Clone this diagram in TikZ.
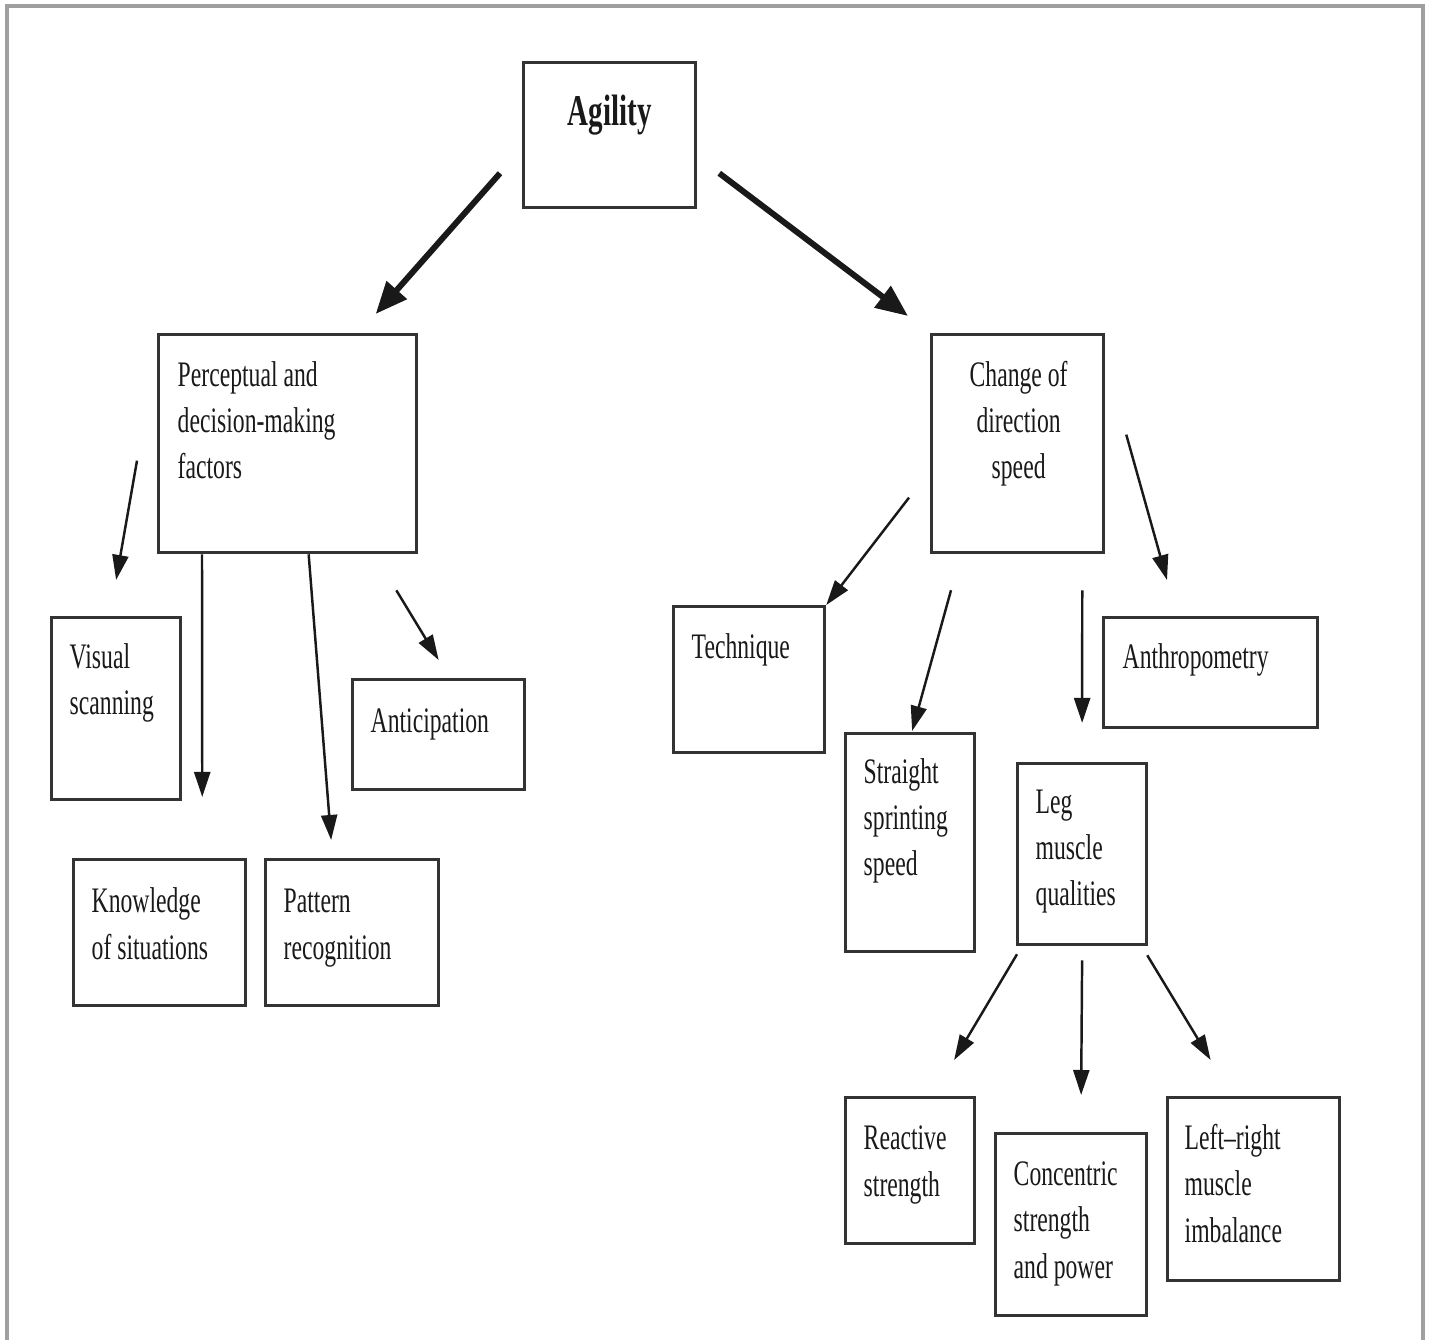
\documentclass[tikz,border=0pt]{standalone}
\usepackage{fontspec}
\setmainfont{Liberation Serif}[FakeStretch=0.66]
\usetikzlibrary{arrows.meta}

\begin{document}
\begin{tikzpicture}[x=0.01cm, y=-0.01cm,
    box/.style = {draw=black!80, line width=0.9pt, inner sep=0pt, anchor=north west},
    lbl/.style = {anchor=base west, align=left, inner sep=0pt, text=black!90,
                  font=\fontsize{10.2}{13.1}\selectfont},
    link/.style = {black!90, line width=0.7pt, -{Triangle[length=0.25cm, width=0.16cm]}},
    heavy link/.style = {black!90, line width=1.7pt, -{Triangle[length=0.32cm, width=0.26cm]}}]
    \useasboundingbox (0,0) rectangle (1433,1340);

    % Frame
    \draw[gray!75, line width=0.9pt] (7,1360) -- (7,6) -- (1423,6) -- (1423,1360);

    % Top box
    \node[box, minimum width=1.72cm, minimum height=1.45cm] (agi) at (522,61) {};
    \node[inner sep=0pt, anchor=base, text=black!90, font=\bfseries\fontsize{12.5}{15}\selectfont]
        (agiT) at ([shift={(0,-10)}]agi.center) {Agility};

    % Second level (text nodes sit on the baseline of their last line)
    \node[box, minimum width=2.58cm, minimum height=2.18cm] (per) at (157,333) {};
    \node[lbl] (perT) at ([shift={(20,146)}]per.north west) {Perceptual and\\decision-making\\factors};
    \node[box, minimum width=1.72cm, minimum height=2.18cm] (cod) at (930,333) {};
    \node[lbl, anchor=base, align=center] (codT) at ([shift={(1,146)}]cod.north) {Change of\\direction\\speed};

    % Perceptual side
    \node[box, minimum width=1.29cm, minimum height=1.82cm] (vis) at (50,616) {};
    \node[lbl] (visT) at ([shift={(19,99)}]vis.north west) {Visual\\scanning};
    \node[box, minimum width=1.72cm, minimum height=1.10cm] (ant) at (351,678) {};
    \node[lbl] (antT) at ([shift={(19,55)}]ant.north west) {Anticipation};
    \node[box, minimum width=1.72cm, minimum height=1.46cm] (kno) at (72,858) {};
    \node[lbl] (knoT) at ([shift={(19,101)}]kno.north west) {Knowledge\\of situations};
    \node[box, minimum width=1.73cm, minimum height=1.46cm] (pat) at (264,858) {};
    \node[lbl] (patT) at ([shift={(19,101)}]pat.north west) {Pattern\\recognition};

    % Change of direction side
    \node[box, minimum width=1.51cm, minimum height=1.46cm] (tec) at (672,605) {};
    \node[lbl] (tecT) at ([shift={(19,54)}]tec.north west) {Technique};
    \node[box, minimum width=1.29cm, minimum height=2.18cm] (ssp) at (844,732) {};
    \node[lbl] (sspT) at ([shift={(19,144)}]ssp.north west) {Straight\\sprinting\\speed};
    \node[box, minimum width=2.14cm, minimum height=1.10cm] (anth) at (1102,616) {};
    \node[lbl] (anthT) at ([shift={(20,53)}]anth.north west) {Anthropometry};
    \node[box, minimum width=1.29cm, minimum height=1.81cm] (leg) at (1016,762) {};
    \node[lbl] (legT) at ([shift={(19,144)}]leg.north west) {Leg\\muscle\\qualities};

    % Leg muscle qualities
    \node[box, minimum width=1.29cm, minimum height=1.46cm] (rea) at (844,1096) {};
    \node[lbl] (reaT) at ([shift={(19,100)}]rea.north west) {Reactive\\strength};
    \node[box, minimum width=1.51cm, minimum height=1.82cm] (con) at (994,1132) {};
    \node[lbl] (conT) at ([shift={(19,146)}]con.north west) {Concentric\\strength\\and power};
    \node[box, minimum width=1.72cm, minimum height=1.83cm] (lr) at (1166,1096) {};
    \node[lbl] (lrT) at ([shift={(18,146)}]lr.north west) {Left--right\\muscle\\imbalance};

    % Arrows from the top
    \draw[heavy link] ([shift={(-22,-36)}]agi.south west) -- ([shift={(88,-19)}]per.north);
    \draw[heavy link] ([shift={(22,-36)}]agi.south east) -- ([shift={(-22,-17)}]cod.north west);

    % Arrows from perceptual factors
    \draw[link] ([shift={(-20,17)}]per.west) -- ([shift={(0,-36)}]vis.north);
    \draw[link] ([shift={(45,0)}]per.south west) -- ([shift={(-45,-61)}]kno.north east);
    \draw[link] ([shift={(21,0)}]per.south) -- ([shift={(-21,-18)}]pat.north);
    \draw[link] ([shift={(-22,36)}]per.south east) -- ([shift={(0,-18)}]ant.north);

    % Arrows from change of direction speed
    \draw[link] ([shift={(-21,54)}]cod.west) -- (tec.north east);
    \draw[link] ([shift={(21,36)}]cod.south west) -- ([shift={(2,-1)}]ssp.north);
    \draw[link] ([shift={(-23,36)}]cod.south east) -- ([shift={(0,-39)}]leg.north);
    \draw[link] ([shift={(21,-9)}]cod.east) -- ([shift={(65,-36)}]anth.north west);

    % Arrows from leg muscle qualities
    \draw[link] ([shift={(1,8)}]leg.south west) -- ([shift={(44,-36)}]rea.north);
    \draw[link] ([shift={(0,14)}]leg.south) -- ([shift={(10,-37)}]con.north);
    \draw[link] ([shift={(-1,9)}]leg.south east) -- ([shift={(-43,-36)}]lr.north);
\end{tikzpicture}
\end{document}
